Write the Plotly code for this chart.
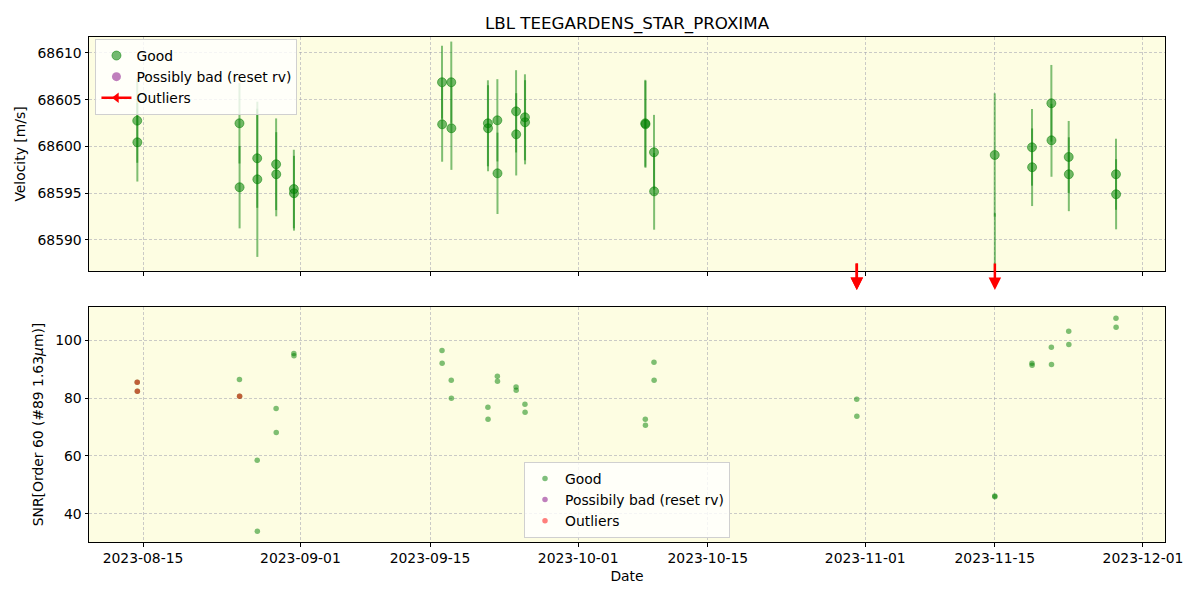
import plotly.graph_objects as go
from plotly.subplots import make_subplots

# ---------------- data ----------------
obs_dates = [
    "2023-08-14 09:00", "2023-08-14 09:20",
    "2023-08-25 10:00", "2023-08-25 10:20",
    "2023-08-27 08:00", "2023-08-27 08:20",
    "2023-08-29 09:00", "2023-08-29 09:20",
    "2023-08-31 07:00", "2023-08-31 07:20",
    "2023-09-16 07:00", "2023-09-16 07:20",
    "2023-09-17 07:00", "2023-09-17 07:20",
    "2023-09-21 06:00", "2023-09-21 06:20",
    "2023-09-22 06:30", "2023-09-22 06:50",
    "2023-09-24 07:00", "2023-09-24 07:20",
    "2023-09-25 06:00", "2023-09-25 06:20",
    "2023-10-08 06:00", "2023-10-08 06:20",
    "2023-10-09 04:30", "2023-10-09 04:50",
    "2023-10-31 02:00", "2023-10-31 02:20",
    "2023-11-14 23:45", "2023-11-15 00:05",
    "2023-11-19 00:15", "2023-11-19 00:35",
    "2023-11-21 02:30", "2023-11-21 02:50",
    "2023-11-22 23:30", "2023-11-22 23:50",
    "2023-11-28 02:00", "2023-11-28 02:20",
]

# good RV points (top panel)
good_dates = [
    "2023-08-14 09:00", "2023-08-14 09:20",
    "2023-08-25 10:00", "2023-08-25 10:20",
    "2023-08-27 08:00", "2023-08-27 08:20",
    "2023-08-29 09:00", "2023-08-29 09:20",
    "2023-08-31 07:00", "2023-08-31 07:20",
    "2023-09-16 07:00", "2023-09-16 07:20",
    "2023-09-17 07:00", "2023-09-17 07:20",
    "2023-09-21 06:00", "2023-09-21 06:20",
    "2023-09-22 06:30", "2023-09-22 06:50",
    "2023-09-24 07:00", "2023-09-24 07:20",
    "2023-09-25 06:00", "2023-09-25 06:20",
    "2023-10-08 06:00", "2023-10-08 06:20",
    "2023-10-09 04:30", "2023-10-09 04:50",
    "2023-11-14 23:45",
    "2023-11-19 00:15", "2023-11-19 00:35",
    "2023-11-21 02:30", "2023-11-21 02:50",
    "2023-11-22 23:30", "2023-11-22 23:50",
    "2023-11-28 02:00", "2023-11-28 02:20",
]
good_rv = [
    68602.76, 68600.45,
    68602.48, 68595.64,
    68598.74, 68596.49,
    68598.10, 68597.03,
    68595.45, 68595.00,
    68606.87, 68602.37,
    68606.87, 68601.95,
    68602.48, 68601.95,
    68602.80, 68597.13,
    68603.76, 68601.30,
    68603.12, 68602.59,
    68602.48, 68602.37,
    68599.38, 68595.20,
    68599.09,
    68599.91, 68597.78,
    68604.62, 68600.66,
    68598.88, 68597.03,
    68597.03, 68594.89,
]
good_err = [
    4.5, 4.2,
    4.3, 4.4,
    5.3, 8.3,
    4.9, 4.5,
    4.2, 4.0,
    3.9, 4.0,
    4.35, 4.45,
    4.6, 4.6,
    4.4, 4.35,
    4.4, 4.4,
    4.6, 4.5,
    4.65, 4.65,
    4.0, 4.1,
    6.6,
    4.1, 4.15,
    4.1, 3.9,
    3.85, 3.95,
    3.8, 3.75,
]

# outlier RV points (below plotted range -> arrows)
outlier_dates = ["2023-10-31 02:00", "2023-10-31 02:20", "2023-11-15 00:05"]
outlier_rv = [68540.0, 68542.0, 68576.0]
outlier_err = [5.0, 5.0, 16.86]

# SNR (bottom panel)
snr = [
    85.4, 82.3,
    86.4, 80.6,
    58.5, 34.0,
    76.4, 68.1,
    95.4, 94.6,
    96.4, 92.0,
    86.1, 79.9,
    76.8, 72.7,
    87.5, 85.8,
    83.8, 82.7,
    77.8, 75.1,
    72.7, 70.6,
    92.3, 86.1,
    79.6, 73.7,
    46.2, 45.9,
    92.0, 91.3,
    97.5, 91.6,
    103.0, 98.5,
    107.5, 104.4,
]
snr_outlier_dates = ["2023-08-14 09:00", "2023-08-14 09:20", "2023-08-25 10:20"]
snr_outlier_vals = [85.4, 82.3, 80.6]

x_ticks = ["2023-08-15", "2023-09-01", "2023-09-15", "2023-10-01",
           "2023-10-15", "2023-11-01", "2023-11-15", "2023-12-01"]
rv_ticks = [68590, 68595, 68600, 68605, 68610]
snr_ticks = [40, 60, 80, 100]

title = "LBL TEEGARDENS_STAR_PROXIMA"

# ---------------- style ----------------
FONT = "DejaVu Sans"
GREEN = "rgba(0,128,0,0.5)"
PURPLE = "rgba(128,0,128,0.5)"
RED = "rgba(255,0,0,0.5)"
BG = "#fdfde2"
GRID = "rgba(160,160,175,0.55)"

fig = make_subplots(rows=2, cols=1, shared_xaxes=True)

# top panel
fig.add_trace(go.Scatter(
    x=good_dates, y=good_rv, mode="markers", name="Good",
    marker=dict(size=9, color="rgba(0,128,0,0.55)",
                line=dict(width=1, color="rgba(0,128,0,0.5)")),
    error_y=dict(type="data", array=good_err, visible=True,
                 color=GREEN, thickness=2, width=0),
    legend="legend"), row=1, col=1)
fig.add_trace(go.Scatter(
    x=outlier_dates, y=outlier_rv, mode="markers", showlegend=False,
    marker=dict(size=9, color="rgba(0,128,0,0.55)"),
    error_y=dict(type="data", array=outlier_err, visible=True,
                 color=GREEN, thickness=2, width=0)), row=1, col=1)
fig.add_trace(go.Scatter(
    x=[None], y=[None], mode="markers", name="Possibly bad (reset rv)",
    marker=dict(size=9, color=PURPLE),
    error_y=dict(type="data", array=[1], color=PURPLE, thickness=2, width=0),
    legend="legend"), row=1, col=1)
fig.add_trace(go.Scatter(
    x=[None], y=[None], mode="lines+markers", name="Outliers",
    line=dict(color="red", width=2.5),
    marker=dict(symbol="triangle-left", size=9, color="red"),
    legend="legend"), row=1, col=1)

# bottom panel
fig.add_trace(go.Scatter(
    x=obs_dates, y=snr, mode="markers", name="Good",
    marker=dict(size=5.5, color=GREEN), legend="legend2"), row=2, col=1)
fig.add_trace(go.Scatter(
    x=[None], y=[None], mode="markers", name="Possibily bad (reset rv)",
    marker=dict(size=5.5, color=PURPLE), legend="legend2"), row=2, col=1)
fig.add_trace(go.Scatter(
    x=snr_outlier_dates, y=snr_outlier_vals, mode="markers", name="Outliers",
    marker=dict(size=5.5, color=RED), legend="legend2"), row=2, col=1)

# outlier arrows below the top panel
for d in outlier_dates:
    fig.add_annotation(x=d, y=-0.081, xref="x", yref="y domain",
                       ax=0, ay=-28, showarrow=True, arrowhead=2,
                       arrowsize=1, arrowwidth=2.5, arrowcolor="red", text="")

axis_common = dict(showline=True, mirror=True, linecolor="black", linewidth=1,
                   ticks="outside", ticklen=3.5, tickcolor="black",
                   showgrid=True, gridcolor=GRID, griddash="3px,2px", gridwidth=0.8,
                   zeroline=False, tickfont=dict(family=FONT, size=13.9, color="black"))

x_range = ["2023-08-09 04:00", "2023-12-03 09:05"]
fig.update_xaxes(**axis_common, range=x_range, tickvals=x_ticks,
                 tickformat="%Y-%m-%d")
fig.update_xaxes(showticklabels=False, row=1, col=1)
fig.update_xaxes(title=dict(text="Date", font=dict(family=FONT, size=13.9, color="black"),
                            standoff=6), row=2, col=1)
fig.update_yaxes(**axis_common)
fig.update_yaxes(range=[68586.68, 68611.71], tickvals=rv_ticks, tickformat="d",
                 title=dict(text="Velocity [m/s]", font=dict(family=FONT, size=13.9, color="black"),
                            standoff=8), row=1, col=1)
fig.update_yaxes(range=[30.3, 111.4], tickvals=snr_ticks, tickformat="d",
                 title=dict(text="SNR[Order 60 (#89 1.63<i>μ</i>m)]",
                            font=dict(family=FONT, size=13.9, color="black"),
                            standoff=8), row=2, col=1)

legend_common = dict(bgcolor="rgba(255,255,255,0.8)", bordercolor="#d0d0d0",
                     borderwidth=1, font=dict(family=FONT, size=13.9, color="black"),
                     tracegroupgap=0)
fig.update_layout(
    width=1200, height=600,
    margin=dict(l=89, r=35, t=37, b=58),
    paper_bgcolor="white", plot_bgcolor=BG,
    font=dict(family=FONT, color="black"),
    title=dict(text=title, x=0.5, xref="paper", y=1 - 23 / 600, yanchor="middle",
               font=dict(family=FONT, size=16.7, color="black")),
    yaxis=dict(domain=[0.5366, 1.0]),
    yaxis2=dict(domain=[0.0, 0.4653]),
    legend=dict(x=0.006, y=0.996, xanchor="left", yanchor="top", **legend_common),
    legend2=dict(x=0.5, y=0.008, xanchor="center", yanchor="bottom", **legend_common),
)

fig.write_html("out.html")
